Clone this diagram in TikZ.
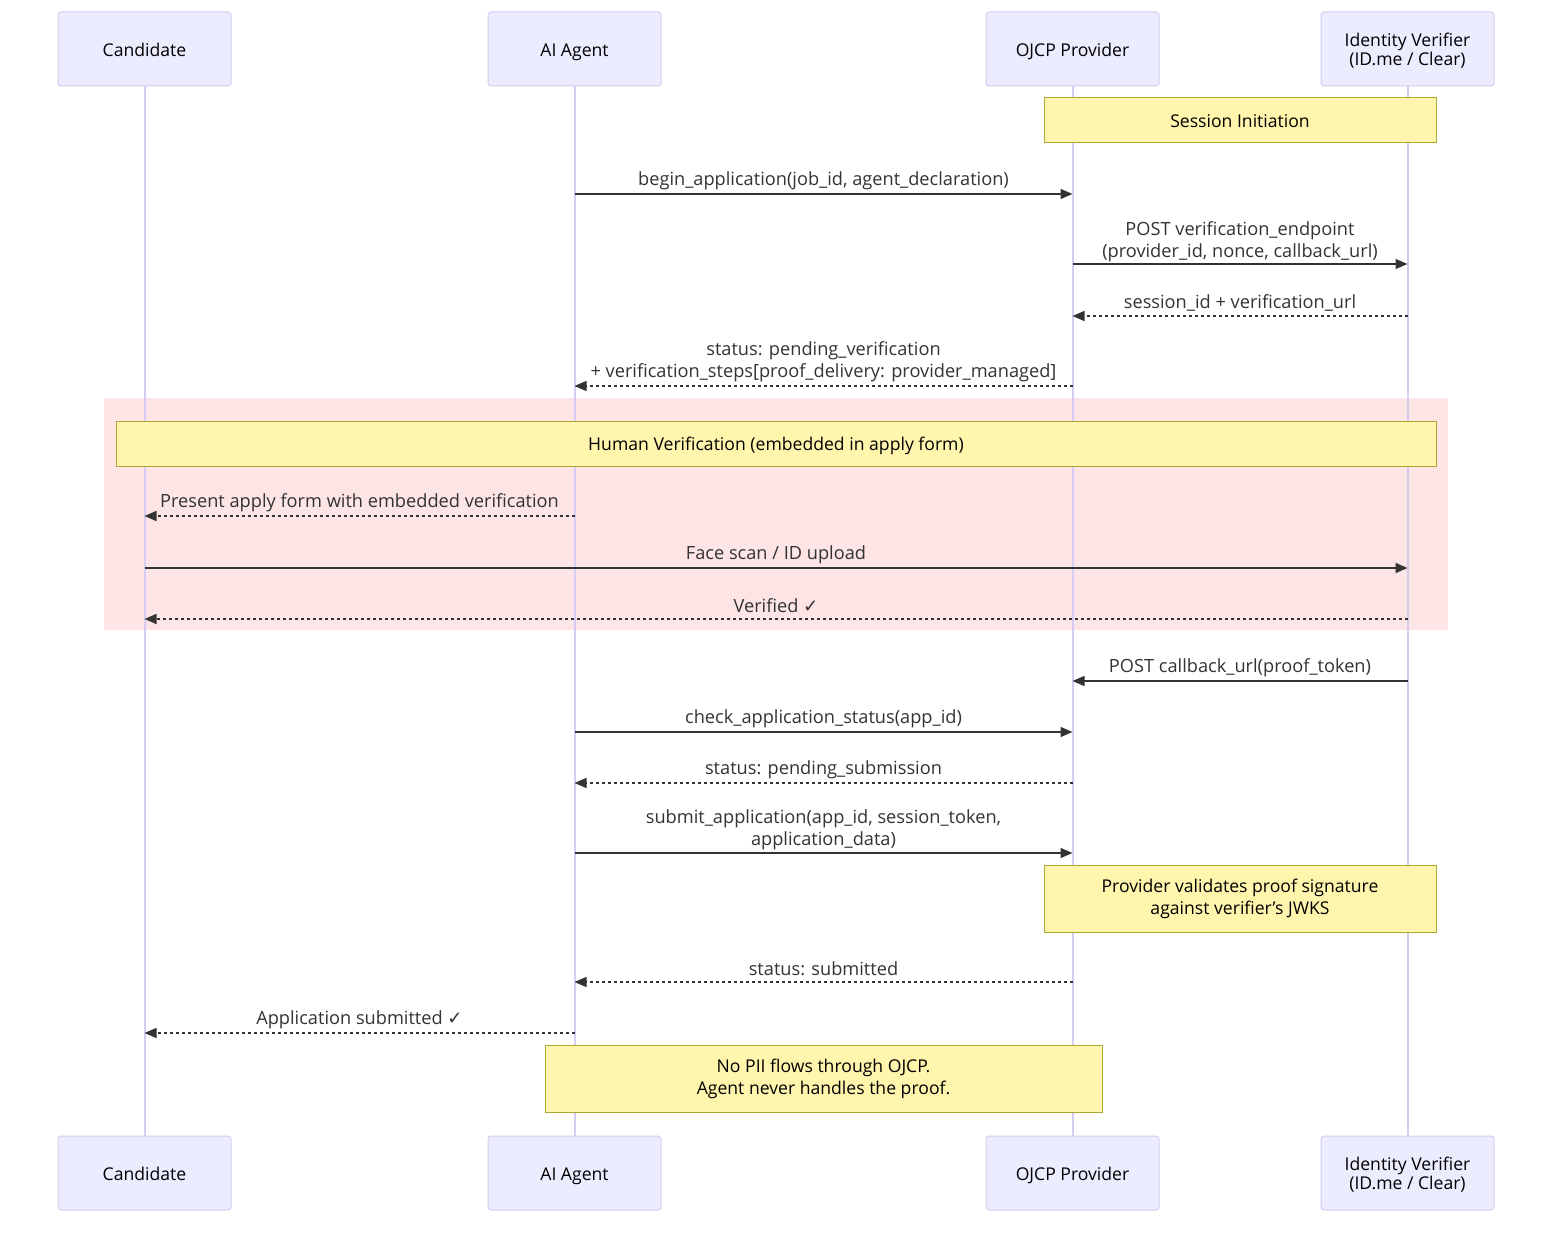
\documentclass[tikz,border=0pt]{standalone}
\usepackage{fontspec}
\setmainfont{Open Sans}
\newfontfamily\symf{DejaVu Sans}
\usetikzlibrary{arrows.meta}
\definecolor{actfill}{HTML}{ECECFF}
\definecolor{actline}{HTML}{D6CBF3}
\definecolor{notefill}{HTML}{FFF5AD}
\definecolor{noteline}{HTML}{AAAA33}
\definecolor{msgcol}{HTML}{333333}
\definecolor{rectfill}{RGB}{253,228,229}
\newcommand{\ck}{{\symf ✓}}
\newcommand{\twoline}[2]{\raisebox{-3pt}[\height][\depth]{\begin{tabular}{@{}c@{}}#1\\#2\end{tabular}}}
\tikzset{
  x=1pt, y=-1pt,
  actor/.style={draw=actline, fill=actfill, line width=1pt, rounded corners=3pt,
    minimum width=173pt, minimum height=74pt, align=center, inner sep=0pt,
    font=\fontsize{17.6}{18}\selectfont},
  oneline/.style={text height=15pt, text depth=0pt},
  life/.style={draw=actline, line width=2pt},
  notebox/.style={draw=noteline, fill=notefill, line width=1pt, align=center,
    inner sep=0pt, font=\fontsize{17.6}{22}\selectfont},
  msg/.style={draw=msgcol, line width=1.5pt, -{Triangle[length=12pt,width=10pt]}},
  reply/.style={msg, dash pattern=on 3pt off 3pt},
  lbl/.style={text=msgcol, align=center, inner sep=0pt, font=\fontsize{18.2}{21.5}\selectfont}
}
\begin{document}
\begin{tikzpicture}
\useasboundingbox[fill=white] (0,0) rectangle (1568,1238);
% group rectangle
\fill[rectfill] (104,398) rectangle (1448,630);
% actors
\node[actor, oneline] (cat) at (144.5,49) {Candidate};
\node[actor, oneline] (agt) at (574.5,49) {AI Agent};
\node[actor, oneline] (opt) at (1072.5,49) {OJCP Provider};
\node[actor] (ivt) at (1407.5,49) {\twoline{Identity Verifier}{(ID.me / Clear)}};
\node[actor, oneline] (cab) at (144.5,1173) {Candidate};
\node[actor, oneline] (agb) at (574.5,1173) {AI Agent};
\node[actor, oneline] (opb) at (1072.5,1173) {OJCP Provider};
\node[actor] (ivb) at (1407.5,1173) {\twoline{Identity Verifier}{(ID.me / Clear)}};
% lifelines
\draw[life] (cat.south) -- (cab.north);
\draw[life] (agt.south) -- (agb.north);
\draw[life] (opt.south) -- (opb.north);
\draw[life] (ivt.south) -- (ivb.north);
% notes
\node[notebox, text height=14pt, text depth=0pt, minimum width=392pt, minimum height=45pt] (n1) at (1240,120.5) {Session Initiation};
\node[notebox, text height=14pt, text depth=0pt, minimum width=1320pt, minimum height=45pt] (n2) at (776,443.5) {Human Verification (embedded in apply form)};
\node[notebox, minimum width=392pt, minimum height=67pt] (n3) at (1240,898.5) {Provider validates proof signature\\against verifier's JWKS};
\node[notebox, minimum width=557pt, minimum height=67pt] (n4) at (823.5,1078.5) {No PII flows through OJCP.\\Agent never handles the proof.};
% messages
\draw[msg] (agt.south |- 0,194) -- (opt.south |- 0,194)
  node[lbl, midway, yshift=13.5pt] {begin\_application(job\_id, agent\_declaration)};
\draw[msg] (opt.south |- 0,264) -- (ivt.south |- 0,264)
  node[lbl, midway, yshift=22.5pt] {POST verification\_endpoint\\(provider\_id, nonce, callback\_url)};
\draw[reply] (ivt.south |- 0,316) -- (opt.south |- 0,316)
  node[lbl, midway, yshift=13.5pt] {session\_id + verification\_url};
\draw[reply] (opt.south |- 0,386) -- (agt.south |- 0,386)
  node[lbl, midway, yshift=24.5pt] {status: pending\_verification\\+ verification\_steps[proof\_delivery: provider\_managed]};
\draw[reply] (agt.south |- 0,516) -- (cat.south |- 0,516)
  node[lbl, midway, yshift=13.5pt] {Present apply form with embedded verification};
\draw[msg] (cat.south |- 0,568) -- (ivt.south |- 0,568)
  node[lbl, midway, yshift=13.5pt] {Face scan / ID upload};
\draw[reply] (ivt.south |- 0,619) -- (cat.south |- 0,619)
  node[lbl, midway, yshift=13.5pt] {Verified \ck};
\draw[msg] (ivt.south |- 0,681) -- (opt.south |- 0,681)
  node[lbl, midway, yshift=13.5pt] {POST callback\_url(proof\_token)};
\draw[msg] (agt.south |- 0,732) -- (opt.south |- 0,732)
  node[lbl, midway, yshift=13.5pt] {check\_application\_status(app\_id)};
\draw[reply] (opt.south |- 0,783) -- (agt.south |- 0,783)
  node[lbl, midway, yshift=13.5pt] {status: pending\_submission};
\draw[msg] (agt.south |- 0,853) -- (opt.south |- 0,853)
  node[lbl, midway, yshift=23pt] {submit\_application(app\_id, session\_token,\\application\_data)};
\draw[reply] (opt.south |- 0,982) -- (agt.south |- 0,982)
  node[lbl, midway, yshift=13.5pt] {status: submitted};
\draw[reply] (agt.south |- 0,1033) -- (cat.south |- 0,1033)
  node[lbl, midway, yshift=13.5pt] {Application submitted \ck};
\end{tikzpicture}
\end{document}
